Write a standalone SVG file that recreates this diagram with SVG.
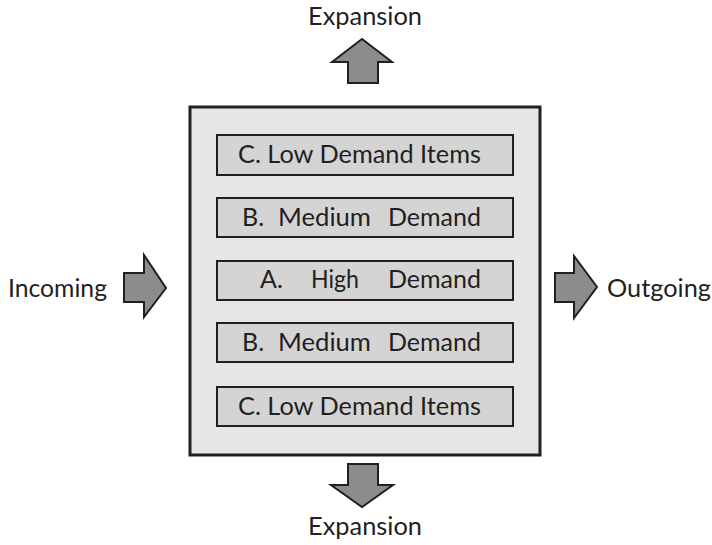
<svg xmlns="http://www.w3.org/2000/svg" width="712" height="545" viewBox="0 0 712 545">
  <style>
    .lbl { font-family: Lato, "Noto Sans", "Liberation Sans", sans-serif; font-size: 25px; fill: #231f20; }
    .arrow { fill: #8c8c8e; stroke: #231f20; stroke-width: 2; stroke-linejoin: miter; }
    .bin { fill: #d4d4d5; stroke: #231f20; stroke-width: 2; }
  </style>
  <rect width="712" height="545" fill="#ffffff"/>

  <!-- warehouse floor -->
  <g id="warehouse">
    <rect x="190" y="107" width="350" height="348" fill="#e6e6e8" stroke="#231f20" stroke-width="3"/>
  </g>

  <!-- storage zones -->
  <g id="zone-c-top">
    <rect class="bin" x="217" y="135" width="296" height="40"/>
    <text class="lbl" x="238" y="163" textLength="243" lengthAdjust="spacingAndGlyphs">C. Low Demand Items</text>
  </g>
  <g id="zone-b-top">
    <rect class="bin" x="217" y="198" width="296" height="39"/>
    <text class="lbl" y="226"><tspan x="242">B.</tspan><tspan x="278" textLength="93" lengthAdjust="spacingAndGlyphs">Medium</tspan><tspan x="388" textLength="93" lengthAdjust="spacingAndGlyphs">Demand</tspan></text>
  </g>
  <g id="zone-a">
    <rect class="bin" x="217" y="261" width="296" height="39"/>
    <text class="lbl" y="288"><tspan x="260">A.</tspan><tspan x="311" textLength="48" lengthAdjust="spacingAndGlyphs">High</tspan><tspan x="388" textLength="93" lengthAdjust="spacingAndGlyphs">Demand</tspan></text>
  </g>
  <g id="zone-b-bottom">
    <rect class="bin" x="217" y="323" width="296" height="39"/>
    <text class="lbl" y="351"><tspan x="242">B.</tspan><tspan x="278" textLength="93" lengthAdjust="spacingAndGlyphs">Medium</tspan><tspan x="388" textLength="93" lengthAdjust="spacingAndGlyphs">Demand</tspan></text>
  </g>
  <g id="zone-c-bottom">
    <rect class="bin" x="217" y="387" width="296" height="39"/>
    <text class="lbl" x="238" y="415" textLength="243" lengthAdjust="spacingAndGlyphs">C. Low Demand Items</text>
  </g>

  <!-- flow arrows -->
  <g id="connectors">
    <polygon class="arrow" points="348,83 348,62 332,62 362,39 392,62 378,62 378,83"/>
    <polygon class="arrow" points="348,464 378,464 378,485 393,485 362,507 331,485 348,485"/>
    <polygon class="arrow" points="124,273 144,273 144,255 166,288 144,317 144,302 124,302"/>
    <polygon class="arrow" points="555,273 574,273 574,256 597,287 574,318 574,302 555,302"/>
  </g>

  <!-- flow labels -->
  <g id="label-expansion-top"><text class="lbl" x="308" y="25" textLength="114" lengthAdjust="spacingAndGlyphs">Expansion</text></g>
  <g id="label-expansion-bottom"><text class="lbl" x="308" y="535" textLength="114" lengthAdjust="spacingAndGlyphs">Expansion</text></g>
  <g id="label-incoming"><text class="lbl" x="8" y="297" textLength="99" lengthAdjust="spacingAndGlyphs">Incoming</text></g>
  <g id="label-outgoing"><text class="lbl" x="607" y="297" textLength="104" lengthAdjust="spacingAndGlyphs">Outgoing</text></g>
</svg>
